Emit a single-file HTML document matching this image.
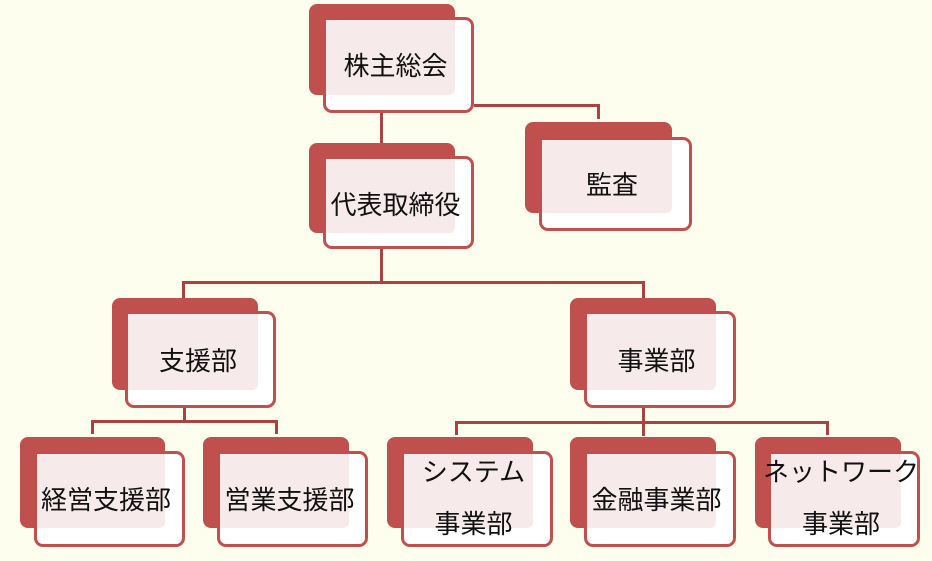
<!DOCTYPE html>
<html><head><meta charset="utf-8"><style>
html,body{margin:0;padding:0}
body{width:932px;height:561px;background:#fefeee;position:relative;overflow:hidden;font-family:"Liberation Sans","Noto Sans CJK JP",sans-serif}
.b{position:absolute;background:#c0504d;border-radius:8px}
.f{position:absolute;background:#fff;border:3px solid #c0504d;border-radius:9px;box-sizing:border-box}
.p{position:absolute;background:#f7eaea;border-radius:0 0 6px 0}
.t{position:absolute;font-size:26px;color:#111;text-align:center;white-space:nowrap;line-height:28px}
.l{position:absolute;background:#a94240}
</style></head><body>
<div class="l" style="left:380px;top:113px;width:3px;height:31px"></div>
<div class="l" style="left:474px;top:104px;width:126px;height:3px"></div>
<div class="l" style="left:597px;top:104px;width:3px;height:15px"></div>
<div class="l" style="left:380px;top:249px;width:3px;height:35px"></div>
<div class="l" style="left:182px;top:281px;width:463px;height:3px"></div>
<div class="l" style="left:182px;top:281px;width:3px;height:17px"></div>
<div class="l" style="left:642px;top:281px;width:3px;height:17px"></div>
<div class="l" style="left:183px;top:408px;width:3px;height:15px"></div>
<div class="l" style="left:91px;top:420px;width:187px;height:3px"></div>
<div class="l" style="left:91px;top:420px;width:3px;height:14px"></div>
<div class="l" style="left:275px;top:420px;width:3px;height:14px"></div>
<div class="l" style="left:642px;top:408px;width:3px;height:28px"></div>
<div class="l" style="left:455px;top:421px;width:374px;height:3px"></div>
<div class="l" style="left:455px;top:421px;width:3px;height:14px"></div>
<div class="l" style="left:826px;top:421px;width:3px;height:14px"></div>
<div id="c"></div>
<script>
var boxes=[
[309,4,455,95,323,17,474,113,["株主総会"]],
[309,143,455,233,323,156,474,249,["代表取締役"]],
[525,122,672,213,539,137,692,231,["監査"]],
[112,298,258,390,125,311,276,408,["支援部"]],
[570,298,716,390,584,311,736,408,["事業部"]],
[20,437,165,528,34,451,185,547,["経営支援部"]],
[203,437,349,528,217,451,368,547,["営業支援部"]],
[387,437,533,528,401,451,553,547,["システム","事業部"]],
[570,437,716,528,584,451,736,547,["金融事業部"]],
[755,437,901,528,768,451,920,547,["ネットワーク","事業部"]]
];
var h="";
boxes.forEach(function(b){
h+='<div class="b" style="left:'+b[0]+'px;top:'+b[1]+'px;width:'+(b[2]-b[0])+'px;height:'+(b[3]-b[1])+'px"></div>';
h+='<div class="f" style="left:'+b[4]+'px;top:'+b[5]+'px;width:'+(b[6]-b[4])+'px;height:'+(b[7]-b[5])+'px"></div>';
h+='<div class="p" style="left:'+(b[4]+3)+'px;top:'+(b[5]+3)+'px;width:'+(b[2]-b[4]-3)+'px;height:'+(b[3]-b[5]-3)+'px"></div>';
var cx=(b[4]+3+b[2])/2+5, cy=(b[5]+b[3])/2+10;
if(b[8].length==1){
h+='<div class="t" style="left:'+(cx-100)+'px;width:200px;top:'+(cy-14)+'px">'+b[8][0]+'</div>';
}else{
h+='<div class="t" style="left:'+(cx-100)+'px;width:200px;top:'+(b[5]+7)+'px">'+b[8][0]+'</div>';
h+='<div class="t" style="left:'+(cx-100)+'px;width:200px;top:'+(b[5]+59)+'px">'+b[8][1]+'</div>';
}
});
document.getElementById("c").innerHTML=h;
</script>
</body></html>
